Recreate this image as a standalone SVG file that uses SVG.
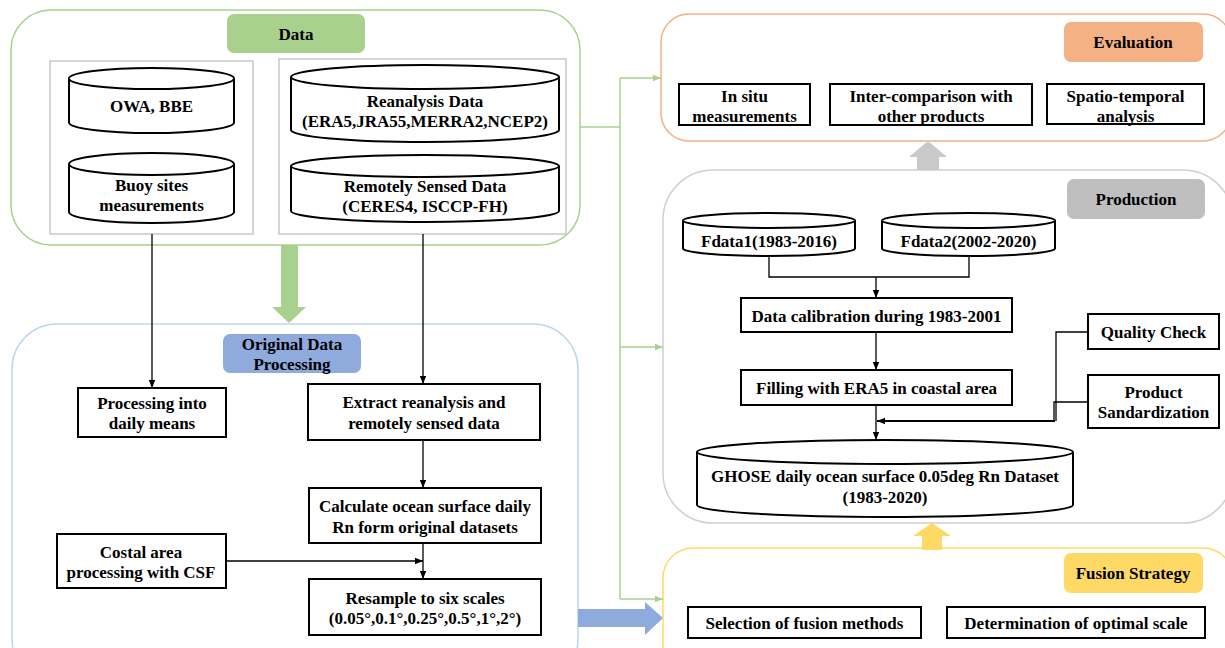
<svg xmlns="http://www.w3.org/2000/svg" width="1225" height="648" viewBox="0 0 1225 648">
<style>
.t{font-family:"Liberation Serif","Times New Roman",serif;font-weight:bold;font-size:17px;text-anchor:middle;dominant-baseline:central;fill:#000}
.lab{font-size:17px}
.box{fill:#fff;stroke:#000;stroke-width:2}
.cyl{fill:#fff;stroke:#000;stroke-width:2}
.grp{fill:#fff;stroke-width:1.5}
.ln{fill:none;stroke:#000;stroke-width:1.3}
.gl{fill:none;stroke:#a9d18e;stroke-width:1.5}
</style>
<defs>
<marker id="ah" viewBox="0 0 10 10" refX="10" refY="5" markerWidth="8" markerHeight="8" markerUnits="userSpaceOnUse" orient="auto"><path d="M0,1 L10,5 L0,9 Z" fill="#000"/></marker>
<marker id="gh" viewBox="0 0 10 10" refX="10" refY="5" markerWidth="9" markerHeight="8" markerUnits="userSpaceOnUse" orient="auto"><path d="M0,1 L10,5 L0,9 Z" fill="#a9d18e"/></marker>
</defs>
<rect width="1225" height="648" fill="#fff"/>

<!-- group containers -->
<g id="data-group">
<rect class="grp" x="11" y="10" width="569" height="235" rx="40" stroke="#a9d18e"/>
<rect x="227" y="14" width="138" height="39" rx="7" fill="#a9d18e"/>
<text class="t lab" x="296" y="34">Data</text>
<rect x="50" y="61" width="203" height="173" fill="none" stroke="#c8c8c8" stroke-width="1.5"/>
<rect x="279" y="59" width="287" height="175" fill="none" stroke="#c8c8c8" stroke-width="1.5"/>
</g>
<g id="odp-group">
<rect class="grp" x="12" y="324" width="566" height="360" rx="45" stroke="#bdd7ee"/>
<rect x="223" y="334" width="138" height="39" rx="7" fill="#8faadc"/>
<text class="t lab" x="292" y="344">Original Data</text>
<text class="t lab" x="292" y="364">Processing</text>
</g>
<g id="eval-group">
<rect class="grp" x="661" y="14" width="570" height="127" rx="28" stroke="#f4b183"/>
<rect x="1064" y="22" width="139" height="40" rx="7" fill="#f4b183"/>
<text class="t lab" x="1133" y="42">Evaluation</text>
</g>
<g id="prod-group">
<rect class="grp" x="663" y="170" width="570" height="353" rx="50" stroke="#d0d0d0"/>
<rect x="1067" y="179" width="138" height="40" rx="7" fill="#bfbfbf"/>
<text class="t lab" x="1136" y="199">Production</text>
</g>
<g id="fusion-group">
<rect class="grp" x="663" y="548" width="570" height="140" rx="30" stroke="#ffd966"/>
<rect x="1064" y="553" width="139" height="40" rx="7" fill="#ffd966"/>
<text class="t lab" x="1133" y="573">Fusion Strategy</text>
</g>

<!-- connectors -->
<g id="connectors">
<line class="ln" x1="152" y1="234" x2="152" y2="388" marker-end="url(#ah)"/>
<line class="ln" x1="423" y1="234" x2="423" y2="384" marker-end="url(#ah)"/>
<line class="ln" x1="423" y1="440" x2="423" y2="488" marker-end="url(#ah)"/>
<line class="ln" x1="226" y1="561" x2="423" y2="561" marker-end="url(#ah)"/>
<line class="ln" x1="423" y1="543" x2="423" y2="579" marker-end="url(#ah)"/>
<path class="ln" d="M769,256 V277 H969 V256"/>
<line class="ln" x1="876" y1="277" x2="876" y2="298" marker-end="url(#ah)"/>
<line class="ln" x1="876" y1="332" x2="876" y2="370" marker-end="url(#ah)"/>
<line class="ln" x1="876" y1="405" x2="876" y2="440" marker-end="url(#ah)"/>
<path class="ln" d="M1088,332 H1056 V421"/>
<path class="ln" d="M1088,402 H1054 V421"/>
<path fill="none" stroke="#000" stroke-width="2.2" d="M1055,421 H877" marker-end="url(#ah)"/>
<path class="gl" d="M580,127 H620 M620,78 V599"/>
<line class="gl" x1="620" y1="78" x2="661" y2="78" marker-end="url(#gh)"/>
<line class="gl" x1="620" y1="347" x2="663" y2="347" marker-end="url(#gh)"/>
<line class="gl" x1="620" y1="599" x2="663" y2="599" marker-end="url(#gh)"/>
<polygon points="281,245 298,245 298,307 306,307 289,323 272,307 281,307" fill="#a9d18e"/>
<polygon points="578,609 645,609 645,602 663,618 645,635 645,627 578,627" fill="#8faadc"/>
<polygon points="917,170 939,170 939,157 947,157 928,141 909,157 917,157" fill="#c9c9c9"/>
<polygon points="922,550 942,550 942,536 951,536 932,523 913,536 922,536" fill="#ffd966"/>
</g>

<!-- data nodes -->
<g id="owa">
<path class="cyl" d="M69,78.5 A82.5,10.5 0 0 1 234,78.5 V122.5 A82.5,10.5 0 0 1 69,122.5 Z"/>
<path class="cyl" fill="none" d="M69,78.5 A82.5,10.5 0 0 0 234,78.5"/>
<text class="t" x="151.5" y="106">OWA, BBE</text>
</g>
<g id="buoy">
<path class="cyl" d="M69,164 A82.5,11 0 0 1 234,164 V212 A82.5,11 0 0 1 69,212 Z"/>
<path class="cyl" fill="none" d="M69,164 A82.5,11 0 0 0 234,164"/>
<text class="t" x="151.5" y="185">Buoy sites</text>
<text class="t" x="151.5" y="205">measurements</text>
</g>
<g id="reanalysis">
<path class="cyl" d="M291,77 A134,12 0 0 1 559,77 V130 A134,12 0 0 1 291,130 Z"/>
<path class="cyl" fill="none" d="M291,77 A134,12 0 0 0 559,77"/>
<text class="t" x="425" y="101">Reanalysis Data</text>
<text class="t" x="425" y="121">(ERA5,JRA55,MERRA2,NCEP2)</text>
</g>
<g id="remote">
<path class="cyl" d="M291,166 A134,11 0 0 1 559,166 V211 A134,11 0 0 1 291,211 Z"/>
<path class="cyl" fill="none" d="M291,166 A134,11 0 0 0 559,166"/>
<text class="t" x="425" y="186">Remotely Sensed Data</text>
<text class="t" x="425" y="206">(CERES4, ISCCP-FH)</text>
</g>

<!-- original data processing nodes -->
<g id="daily-means">
<rect class="box" x="78" y="388" width="148" height="49"/>
<text class="t" x="152" y="403">Processing into</text>
<text class="t" x="152" y="423">daily means</text>
</g>
<g id="extract">
<rect class="box" x="308" y="384" width="232" height="56"/>
<text class="t" x="424" y="402">Extract reanalysis and</text>
<text class="t" x="424" y="423">remotely sensed data</text>
</g>
<g id="calculate">
<rect class="box" x="309" y="488" width="232" height="55"/>
<text class="t" x="425" y="506">Calculate ocean surface daily</text>
<text class="t" x="425" y="527">Rn form original datasets</text>
</g>
<g id="costal">
<rect class="box" x="57" y="534" width="169" height="54"/>
<text class="t" x="141" y="552">Costal area</text>
<text class="t" x="141" y="572">processing with CSF</text>
</g>
<g id="resample">
<rect class="box" x="309" y="579" width="232" height="56"/>
<text class="t" x="425" y="598">Resample to six scales</text>
<text class="t" x="425" y="618">(0.05°,0.1°,0.25°,0.5°,1°,2°)</text>
</g>

<!-- evaluation nodes -->
<g id="insitu">
<rect class="box" x="679" y="84" width="131" height="41"/>
<text class="t" x="744.5" y="96">In situ</text>
<text class="t" x="744.5" y="116">measurements</text>
</g>
<g id="intercomp">
<rect class="box" x="830" y="84" width="202" height="41"/>
<text class="t" x="931" y="96">Inter-comparison with</text>
<text class="t" x="931" y="116">other products</text>
</g>
<g id="spatio">
<rect class="box" x="1047" y="84" width="157" height="40"/>
<text class="t" x="1125.5" y="96">Spatio-temporal</text>
<text class="t" x="1125.5" y="116">analysis</text>
</g>

<!-- production nodes -->
<g id="fdata1">
<path class="cyl" d="M683,220.5 A86,7.5 0 0 1 855,220.5 V248.5 A86,7.5 0 0 1 683,248.5 Z"/>
<path class="cyl" fill="none" d="M683,220.5 A86,7.5 0 0 0 855,220.5"/>
<text class="t" x="769" y="241">Fdata1(1983-2016)</text>
</g>
<g id="fdata2">
<path class="cyl" d="M882,220.5 A86.5,7.5 0 0 1 1055,220.5 V248.5 A86.5,7.5 0 0 1 882,248.5 Z"/>
<path class="cyl" fill="none" d="M882,220.5 A86.5,7.5 0 0 0 1055,220.5"/>
<text class="t" x="968.5" y="241">Fdata2(2002-2020)</text>
</g>
<g id="calibration">
<rect class="box" x="741" y="298" width="271" height="34"/>
<text class="t" x="876.5" y="316">Data calibration during 1983-2001</text>
</g>
<g id="filling">
<rect class="box" x="741" y="370" width="271" height="35"/>
<text class="t" x="876.5" y="388">Filling with ERA5 in coastal area</text>
</g>
<g id="quality">
<rect class="box" x="1088" y="314" width="131" height="35"/>
<text class="t" x="1153.5" y="332">Quality Check</text>
</g>
<g id="standard">
<rect class="box" x="1088" y="375" width="131" height="53"/>
<text class="t" x="1153.5" y="392">Product</text>
<text class="t" x="1153.5" y="412">Sandardization</text>
</g>
<g id="ghose">
<path class="cyl" d="M697,452 A188,12 0 0 1 1073,452 V505 A188,12 0 0 1 697,505 Z"/>
<path class="cyl" fill="none" d="M697,452 A188,12 0 0 0 1073,452"/>
<text class="t" x="885" y="476">GHOSE daily ocean surface 0.05deg Rn Dataset</text>
<text class="t" x="885" y="497">(1983-2020)</text>
</g>

<!-- fusion nodes -->
<g id="selection">
<rect class="box" x="688" y="607" width="233" height="31"/>
<text class="t" x="804.5" y="623">Selection of fusion methods</text>
</g>
<g id="determination">
<rect class="box" x="947" y="607" width="258" height="31"/>
<text class="t" x="1076" y="623">Determination of optimal scale</text>
</g>
</svg>
